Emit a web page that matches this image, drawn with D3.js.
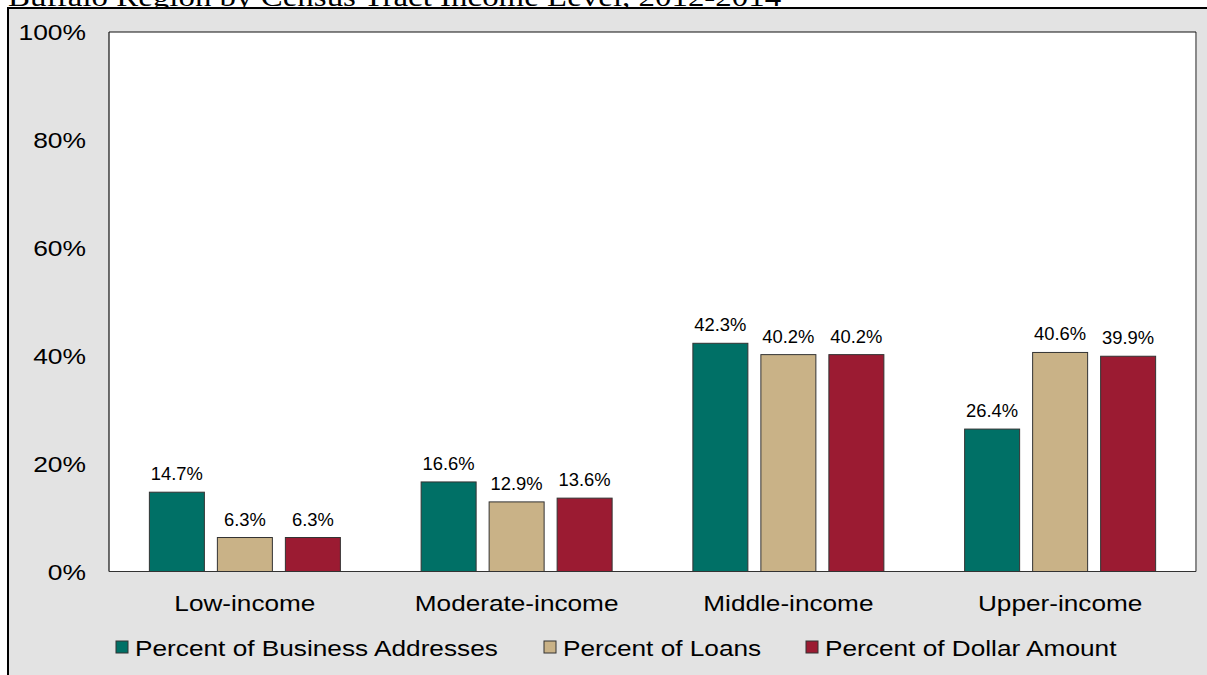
<!DOCTYPE html>
<html><head><meta charset="utf-8">
<script src="https://cdn.jsdelivr.net/npm/d3@7"></script>
<style>body{margin:0;background:#fff;} svg{display:block;}</style>
</head><body>
<svg id="c" width="1207" height="675"></svg>
<script>
const title = "Buffalo Region by Census Tract Income Level, 2012-2014";
const categories = ["Low-income", "Moderate-income", "Middle-income", "Upper-income"];
const seriesNames = ["Percent of Business Addresses", "Percent of Loans", "Percent of Dollar Amount"];
const businessAddresses = [14.7, 16.6, 42.3, 26.4];
const loans = [6.3, 12.9, 40.2, 40.6];
const dollarAmount = [6.3, 13.6, 40.2, 39.9];
const yTicks = [0, 20, 40, 60, 80, 100];
const colors = ["#007066", "#c9b287", "#9b1b32"];

(function () {
const series = [businessAddresses, loans, dollarAmount];
const svg = d3.select("#c");
const W = 1207, H = 675;
const pL = 109, pR = 1196, pT = 32, pB = 571.5;
const SANS = "Liberation Sans, Arial, sans-serif";

// helper: text with horizontal stretch (source image is wider than tall)
function stext(g, x, yy, str, size, sx, anchor, family) {
  return g.append("text")
    .attr("transform", `translate(${x},${yy}) scale(${sx},1)`)
    .attr("text-anchor", anchor || "start")
    .attr("font-family", family || SANS).attr("font-size", size).attr("fill", "#000")
    .text(str);
}

// title (cropped at top)
stext(svg, 8, 6, title, 27, 1.22, "start", "Liberation Serif, Times New Roman, serif");

// outer frame
svg.append("rect").attr("x", 8).attr("y", 8).attr("width", W + 10).attr("height", H + 10)
  .attr("fill", "#e3e3e3").attr("stroke", "#000").attr("stroke-width", 2);

// plot area
svg.append("rect").attr("x", pL).attr("y", pT).attr("width", pR - pL).attr("height", pB - pT)
  .attr("fill", "#fff");
svg.append("line").attr("x1", pR).attr("x2", pR).attr("y1", pT).attr("y2", pB)
  .attr("stroke", "#8a8a8a").attr("stroke-width", 2);
svg.append("line").attr("x1", pL).attr("x2", pR).attr("y1", pT).attr("y2", pT)
  .attr("stroke", "#111").attr("stroke-width", 1.2);
svg.append("line").attr("x1", pL).attr("x2", pL).attr("y1", pT).attr("y2", pB)
  .attr("stroke", "#111").attr("stroke-width", 1.2);

const x0 = d3.scaleBand().domain(categories).range([pL, pR]);
const y = d3.scaleLinear().domain([0, 100]).range([pB, pT]);
const barW = 55, step = 68;

// y tick labels
yTicks.forEach(d => stext(svg, 86, y(d) + 8, d + "%", 22, 1.2, "end"));

// bars
categories.forEach((c, i) => {
  const cx = x0(c) + x0.bandwidth() / 2;
  series.forEach((s, j) => {
    const bx = cx + (j - 1) * step - barW / 2;
    svg.append("rect").attr("x", bx).attr("y", y(s[i])).attr("width", barW).attr("height", y(0) - y(s[i]))
      .attr("fill", colors[j]).attr("stroke", "#333").attr("stroke-width", 1);
    stext(svg, bx + barW / 2, y(s[i]) - 12, s[i].toFixed(1) + "%", 17.5, 1.05, "middle");
  });
  stext(svg, cx, 611, c, 22, 1.19, "middle");
});

// x axis line
svg.append("line").attr("x1", pL).attr("x2", pR).attr("y1", pB).attr("y2", pB)
  .attr("stroke", "#333").attr("stroke-width", 1.2);

// legend
const legX = [116, 544, 806];
seriesNames.forEach((n, j) => {
  svg.append("rect").attr("x", legX[j]).attr("y", 641).attr("width", 12).attr("height", 12)
    .attr("fill", colors[j]).attr("stroke", "#333").attr("stroke-width", 1);
  stext(svg, legX[j] + 19, 656, n, 21.5, 1.22, "start");
});
})();
</script>
</body></html>
